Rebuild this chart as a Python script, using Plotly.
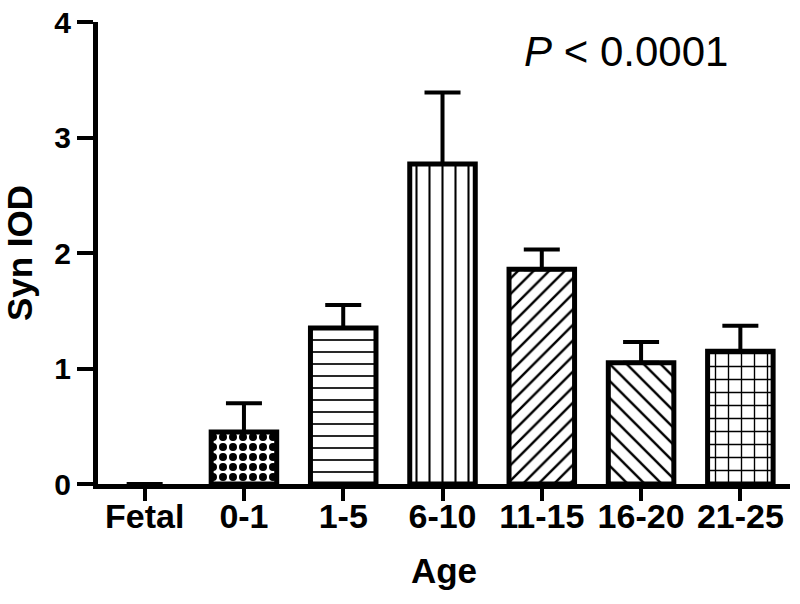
import plotly.graph_objects as go

categories = ["Fetal", "0-1", "1-5", "6-10", "11-15", "16-20", "21-25"]
means = [0.0, 0.45, 1.35, 2.77, 1.86, 1.05, 1.15]
sem_upper = [None, 0.25, 0.20, 0.62, 0.17, 0.18, 0.22]
y_ticks = [0, 1, 2, 3, 4]

shapes = [".", ".", "-", "|", "/", "\\", "+"]
sizes = [10, 10, 12, 13, 11, 12, 13]
solids = [0.5, 0.5, 0.14, 0.16, 0.22, 0.2, 0.2]
outline_widths = [0 if v == 0 else 5 for v in means]

FONT = "Arial, Liberation Sans, sans-serif"

fig = go.Figure()
fig.add_trace(go.Bar(
    x=list(range(len(categories))),
    y=means,
    width=0.66,
    marker=dict(
        color="white",
        line=dict(color="black", width=outline_widths),
        pattern=dict(shape=shapes, size=sizes, solidity=solids,
                     fgcolor="black", bgcolor="white", fillmode="replace"),
    ),
    error_y=dict(type="data", symmetric=False, array=sem_upper,
                 arrayminus=[0] * len(means), color="black",
                 thickness=4, width=18),
    showlegend=False,
    hoverinfo="skip",
))

fig.update_layout(
    width=800, height=604,
    margin=dict(l=98, r=10, t=22, b=120),
    paper_bgcolor="white", plot_bgcolor="white",
    font=dict(family=FONT, color="black"),
    xaxis=dict(
        range=[-0.47, 6.5],
        automargin=False,
        tickmode="array",
        tickvals=list(range(len(categories))),
        ticktext=categories,
        showline=True, linecolor="black", linewidth=5,
        ticks="outside", ticklen=12, tickwidth=4, tickcolor="black",
        ticklabelstandoff=-14,
        tickfont=dict(family=FONT, size=34, color="black", weight="bold"),
        showgrid=False, zeroline=False,
        title=dict(text="<b>Age</b>", font=dict(family=FONT, size=35), standoff=26),
    ),
    yaxis=dict(
        range=[0, 4],
        automargin=False,
        tickvals=y_ticks,
        showline=True, linecolor="black", linewidth=5,
        ticks="outside", ticklen=16, tickwidth=4, tickcolor="black",
        tickfont=dict(family=FONT, size=30, color="black", weight="bold"),
        showgrid=False, zeroline=False,
        title=dict(text="<b>Syn IOD</b>", font=dict(family=FONT, size=35), standoff=14),
    ),
    annotations=[dict(
        text="<i>P</i> < 0.0001", x=0.612, y=0.937, xref="paper", yref="paper",
        xanchor="left", yanchor="middle", showarrow=False,
        font=dict(family=FONT, size=42, color="black"),
    )],
)

fig.write_html("out.html", config={"displayModeBar": False},
               post_script="document.body.style.margin='0';")
